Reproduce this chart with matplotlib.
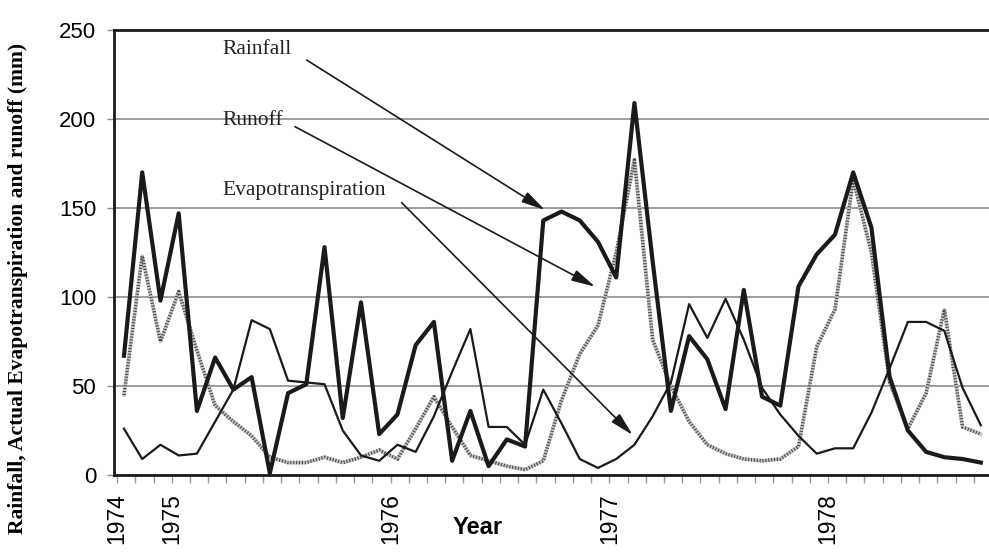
import numpy as np
import matplotlib
matplotlib.use("Agg")
import matplotlib.pyplot as plt

# monthly values, Jan 1974 .. Dec 1977 (48 months)
rainfall = [67, 170, 98, 147, 36, 66, 48, 55, 1, 46, 51, 128,
            32, 97, 23, 34, 73, 86, 8, 36, 5, 20, 16, 143,
            148, 143, 131, 111, 209, 120, 36, 78, 65, 37, 104, 44,
            39, 106, 124, 135, 170, 139, 55, 25, 13, 10, 9, 7]
evapo = [26, 9, 17, 11, 12, 30, 48, 87, 82, 53, 52, 51,
         25, 11, 8, 17, 13, 33, 58, 82, 27, 27, 17, 48,
         29, 9, 4, 9, 17, 33, 52, 96, 77, 99, 76, 49,
         34, 22, 12, 15, 15, 35, 60, 86, 86, 81, 49, 28]
runoff = [45, 123, 75, 103, 70, 39, 30, 22, 10, 7, 7, 10,
          7, 10, 14, 9, 26, 44, 27, 11, 8, 5, 3, 8,
          42, 68, 84, 125, 177, 76, 50, 30, 17, 12, 9, 8,
          9, 16, 72, 93, 166, 125, 52, 26, 46, 93, 27, 23]

year_labels = ["1974", "1975", "1976", "1977", "1978"]
year_ticks = [0, 3, 15, 27, 39]

x = np.arange(len(rainfall))

fig = plt.figure(figsize=(9.89, 5.55), dpi=100)
ax = fig.add_axes([0.1156, 0.1441, 0.8844, 0.8019])

# grid lines
for v in [50, 100, 150, 200]:
    ax.axhline(v, color="#8c8c8c", lw=1.2, zorder=0)

# lines
ax.plot(x, evapo, color="#1a1a1a", lw=1.6, zorder=3)
ax.plot(x, runoff, color="#c4c4c4", lw=2.6, zorder=2)
ax.plot(x, runoff, color="#4a4a4a", lw=2.6, dashes=(0.3, 0.5), zorder=2)
ax.plot(x, rainfall, color="#1a1a1a", lw=3.0, zorder=4)

ax.set_xlim(-0.53, 47.45)
ax.set_ylim(0, 250)

# category ticks (one per month), labels only at the year marks
ticks = x - 0.38
ax.set_xticks(ticks)
labels = [""] * len(ticks)
for t, lab in zip(year_ticks, year_labels):
    labels[t] = lab
ax.set_xticklabels(labels, rotation=90, fontsize=16.5, family="Liberation Sans")
ax.tick_params(axis="x", length=6, width=1, color="#999999", pad=7)

ax.set_yticks([0, 50, 100, 150, 200, 250])
ax.set_yticklabels(["0", "50", "100", "150", "200", "250"],
                   fontsize=16, family="Liberation Sans")
ax.tick_params(axis="y", length=5, width=1, color="#8c8c8c", pad=8)

for s in ["left", "bottom", "top"]:
    ax.spines[s].set_linewidth(2)
    ax.spines[s].set_color("#1a1a1a")
ax.spines["right"].set_visible(False)

ax.text(0.4158, -0.117, "Year", transform=ax.transAxes, ha="center",
        va="center", fontsize=17, fontweight="bold", family="Liberation Sans",
        fontstretch="condensed")
fig.text(0.018, 0.48, "Rainfall, Actual Evapotranspiration and runoff (mm)",
         rotation=90, ha="center", va="center", fontsize=15.5,
         fontweight="bold", family="Liberation Serif")

# labels with arrows
arrow = dict(arrowstyle="-|>,head_length=0.9,head_width=0.22", color="#1a1a1a",
             lw=1.2, mutation_scale=16, shrinkA=0, shrinkB=0)
ax.text(5.38, 238.8, "Rainfall", fontsize=15.5, family="Liberation Serif",
        va="center", color="#222222")
ax.annotate("", xy=(23.09, 148.9), xytext=(10.02, 233.1), arrowprops=arrow)
ax.text(5.38, 198.9, "Runoff", fontsize=15.5, family="Liberation Serif",
        va="center", color="#222222")
ax.annotate("", xy=(25.84, 105.8), xytext=(9.38, 195.7), arrowprops=arrow)
ax.text(5.38, 160.1, "Evapotranspiration", fontsize=15.5, family="Liberation Serif",
        va="center", color="#222222")
ax.annotate("", xy=(27.9, 22.5), xytext=(15.23, 153.0), arrowprops=arrow)

fig.savefig("out.png", dpi=100)
